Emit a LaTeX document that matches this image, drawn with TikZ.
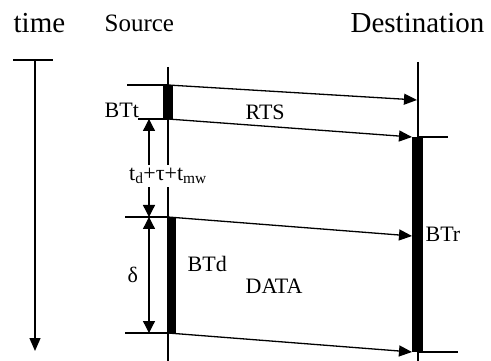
\documentclass[tikz,border=0pt]{standalone}
\usepackage{fontspec}
\setmainfont{Liberation Serif}
\usetikzlibrary{arrows.meta}

\begin{document}
\begin{tikzpicture}[x=1pt, y=-1pt, line width=1.3pt,
  sig/.style={-{Triangle[length=13pt, width=11pt]}},
  span/.style={{Triangle[length=12pt, width=12pt]}-{Triangle[length=12pt, width=12pt]}},
  lbl/.style={font=\fontsize{22}{24}\selectfont, anchor=base west, inner sep=0pt},
  head/.style={font=\fontsize{#1}{#1}\selectfont, anchor=base west, inner sep=0pt},
  busy/.style={fill=black, draw=none}]

  \useasboundingbox (0,0) rectangle (491,361);

  % headings
  \node[head=29] (time) at (13,33) {time};
  \node[head=25] (src) at (104,32) {Source};
  \node[head=29] (dst) at (350,33) {Destination};

  % time axis
  \coordinate (tTop) at (35,60);
  \coordinate (tBot) at (35,351);
  \draw (13,60) -- (53,60);
  \draw[sig] (tTop) -- (tBot);

  % station lines
  \coordinate (srcTop) at (168,67);
  \coordinate (srcBot) at (168,361);
  \coordinate (dstTop) at (418,62);
  \coordinate (dstBot) at (418,361);
  \draw (srcTop) -- (srcBot);
  \draw (dstTop) -- (dstBot);

  % send instants at the source
  \coordinate (rtsA) at (168,85);
  \coordinate (rtsB) at (168,119);
  \coordinate (datA) at (168,217);
  \coordinate (datB) at (168,333);
  \draw (127,85) -- (rtsA);
  \draw (138,119) -- (rtsB);
  \draw (125,217) -- (datA);
  \draw (125,333) -- (datB);

  % arrival instants at the destination
  \coordinate (rcvA) at (417,100);
  \coordinate (rcvB) at (412,137);
  \coordinate (rcvC) at (412,236);
  \coordinate (rcvD) at (412,352);
  \draw (418,137) -- (448,137);
  \draw (418,352) -- (458,352);

  % frames on the channel
  \draw[sig] (rtsA) -- (rcvA);
  \draw[sig] (rtsB) -- (rcvB);
  \draw[sig] (datA) -- (rcvC);
  \draw[sig] (datB) -- (rcvD);

  % busy tones
  \fill[busy] (163,85) rectangle (173,119); % BTt
  \fill[busy] (167,217) rectangle (176,333); % BTd
  \fill[busy] (412,137) rectangle (423,352); % BTr

  % intervals
  \coordinate (gapTop) at (149,119);
  \coordinate (gapBot) at (149,217);
  \coordinate (dTop) at (149,217);
  \coordinate (dBot) at (149,333);
  \draw[span] (gapTop) -- (gapBot);
  \draw[span] (dTop) -- (dBot);

  % labels
  \node[lbl] (btt) at (104,118) {BTt};
  \node[lbl] (rts) at (245,120) {RTS};
  \node[lbl] (btr) at (425,242) {BTr};
  \node[lbl] (btd) at (187,272) {BTd};
  \node[lbl] (data) at (245,293) {DATA};
  \node[lbl] (delta) at (127,283) {δ};
  \node[fill=white, inner sep=3pt, font=\fontsize{22}{24}\selectfont] (wait) at (168,176)
    {t\textsubscript{d}+τ+t\textsubscript{mw}};
\end{tikzpicture}
\end{document}
